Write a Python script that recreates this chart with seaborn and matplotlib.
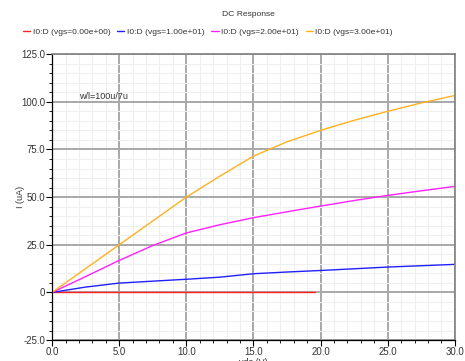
import numpy as np
import pandas as pd
import matplotlib
matplotlib.use('Agg')
import matplotlib.pyplot as plt
import seaborn as sns
from matplotlib.ticker import MultipleLocator, FuncFormatter

# Sweep values (vds in V, current in uA)
vds = [0.0, 2.5, 5.0, 7.5, 10.0, 12.5, 15.0, 17.5, 20.0, 22.5, 25.0, 27.5, 30.0]
i_vgs10 = [0.0, 2.8, 4.9, 5.9, 6.9, 8.0, 9.8, 10.7, 11.5, 12.4, 13.3, 14.0, 14.7]
i_vgs20 = [0.0, 8.3, 16.8, 24.6, 31.2, 35.5, 39.2, 42.3, 45.3, 48.2, 50.9, 53.3, 55.6]
i_vgs30 = [0.0, 12.5, 25.0, 37.5, 50.0, 61.0, 71.5, 79.0, 85.0, 90.3, 95.0, 99.4, 103.3]
vds_vgs0 = [0.0, 19.6]
i_vgs0 = [0.0, 0.0]

labels = ['I0:D (vgs=0.00e+00)', 'I0:D (vgs=1.00e+01)',
          'I0:D (vgs=2.00e+01)', 'I0:D (vgs=3.00e+01)']
colors = ['#ff2020', '#2020ff', '#ff20ff', '#ffb020']

df = pd.concat([
    pd.DataFrame({'vds': vds_vgs0, 'I': i_vgs0, 'trace': labels[0]}),
    pd.DataFrame({'vds': vds, 'I': i_vgs10, 'trace': labels[1]}),
    pd.DataFrame({'vds': vds, 'I': i_vgs20, 'trace': labels[2]}),
    pd.DataFrame({'vds': vds, 'I': i_vgs30, 'trace': labels[3]}),
])

sns.set_theme(style='white')
plt.rcParams['font.family'] = ['Liberation Sans', 'DejaVu Sans']

fig = plt.figure(figsize=(4.65, 3.61), dpi=100)
ax = fig.add_axes([0.112, 0.058, 0.866, 0.792])

# grid first so the traces sit on top
ax.xaxis.set_major_locator(MultipleLocator(5))
ax.xaxis.set_minor_locator(MultipleLocator(1))
ax.yaxis.set_major_locator(MultipleLocator(25))
ax.yaxis.set_minor_locator(MultipleLocator(5))
ax.grid(which='minor', color='#efefef', linewidth=0.8)
ax.grid(which='major', color='#a8a8a8', linewidth=1.4)
ax.set_axisbelow(True)

sns.lineplot(data=df, x='vds', y='I', hue='trace', palette=colors,
             hue_order=labels, linewidth=1.0, legend=False, ax=ax,
             estimator=None, sort=False)

ax.set_xlim(0, 30)
ax.set_ylim(-25, 125)
ax.xaxis.set_major_formatter(FuncFormatter(lambda v, p: f'{v:.1f}'))
ax.yaxis.set_major_formatter(FuncFormatter(lambda v, p: '0' if abs(v) < 1e-9 else f'{v:.1f}'))
ax.tick_params(axis='both', which='major', labelsize=6.9, length=4, width=0.8,
               color='black', labelcolor='#333333', pad=1, bottom=True, left=True)
ax.tick_params(axis='both', which='minor', length=2, width=0.6, color='black',
               bottom=True, left=True)

for side in ['left', 'bottom']:
    ax.spines[side].set_color('black')
    ax.spines[side].set_linewidth(0.9)
for side in ['top', 'right']:
    ax.spines[side].set_color('#808080')
    ax.spines[side].set_linewidth(1.2)

ax.set_xlabel('vds (V)', fontsize=6.5, color='#333333', labelpad=1)
ax.set_ylabel('I (uA)', fontsize=6.5, color='#333333', labelpad=-3)

ax.text(2.0, 101.5, 'w/l=100u/7u', fontsize=6.5, color='#333333')

fig.text(0.535, 0.961, 'DC Response', ha='center', va='center', fontsize=6.1, color='#333333')

handles = [plt.Line2D([0], [0], color=c, linewidth=1.0) for c in colors]
fig.legend(handles, labels, loc='center', bbox_to_anchor=(0.447, 0.911), ncol=4,
           frameon=False, fontsize=6.1, handlelength=0.85, handletextpad=0.3,
           columnspacing=0.8, borderaxespad=0, labelcolor='#333333')

fig.savefig('out.png', dpi=100)
